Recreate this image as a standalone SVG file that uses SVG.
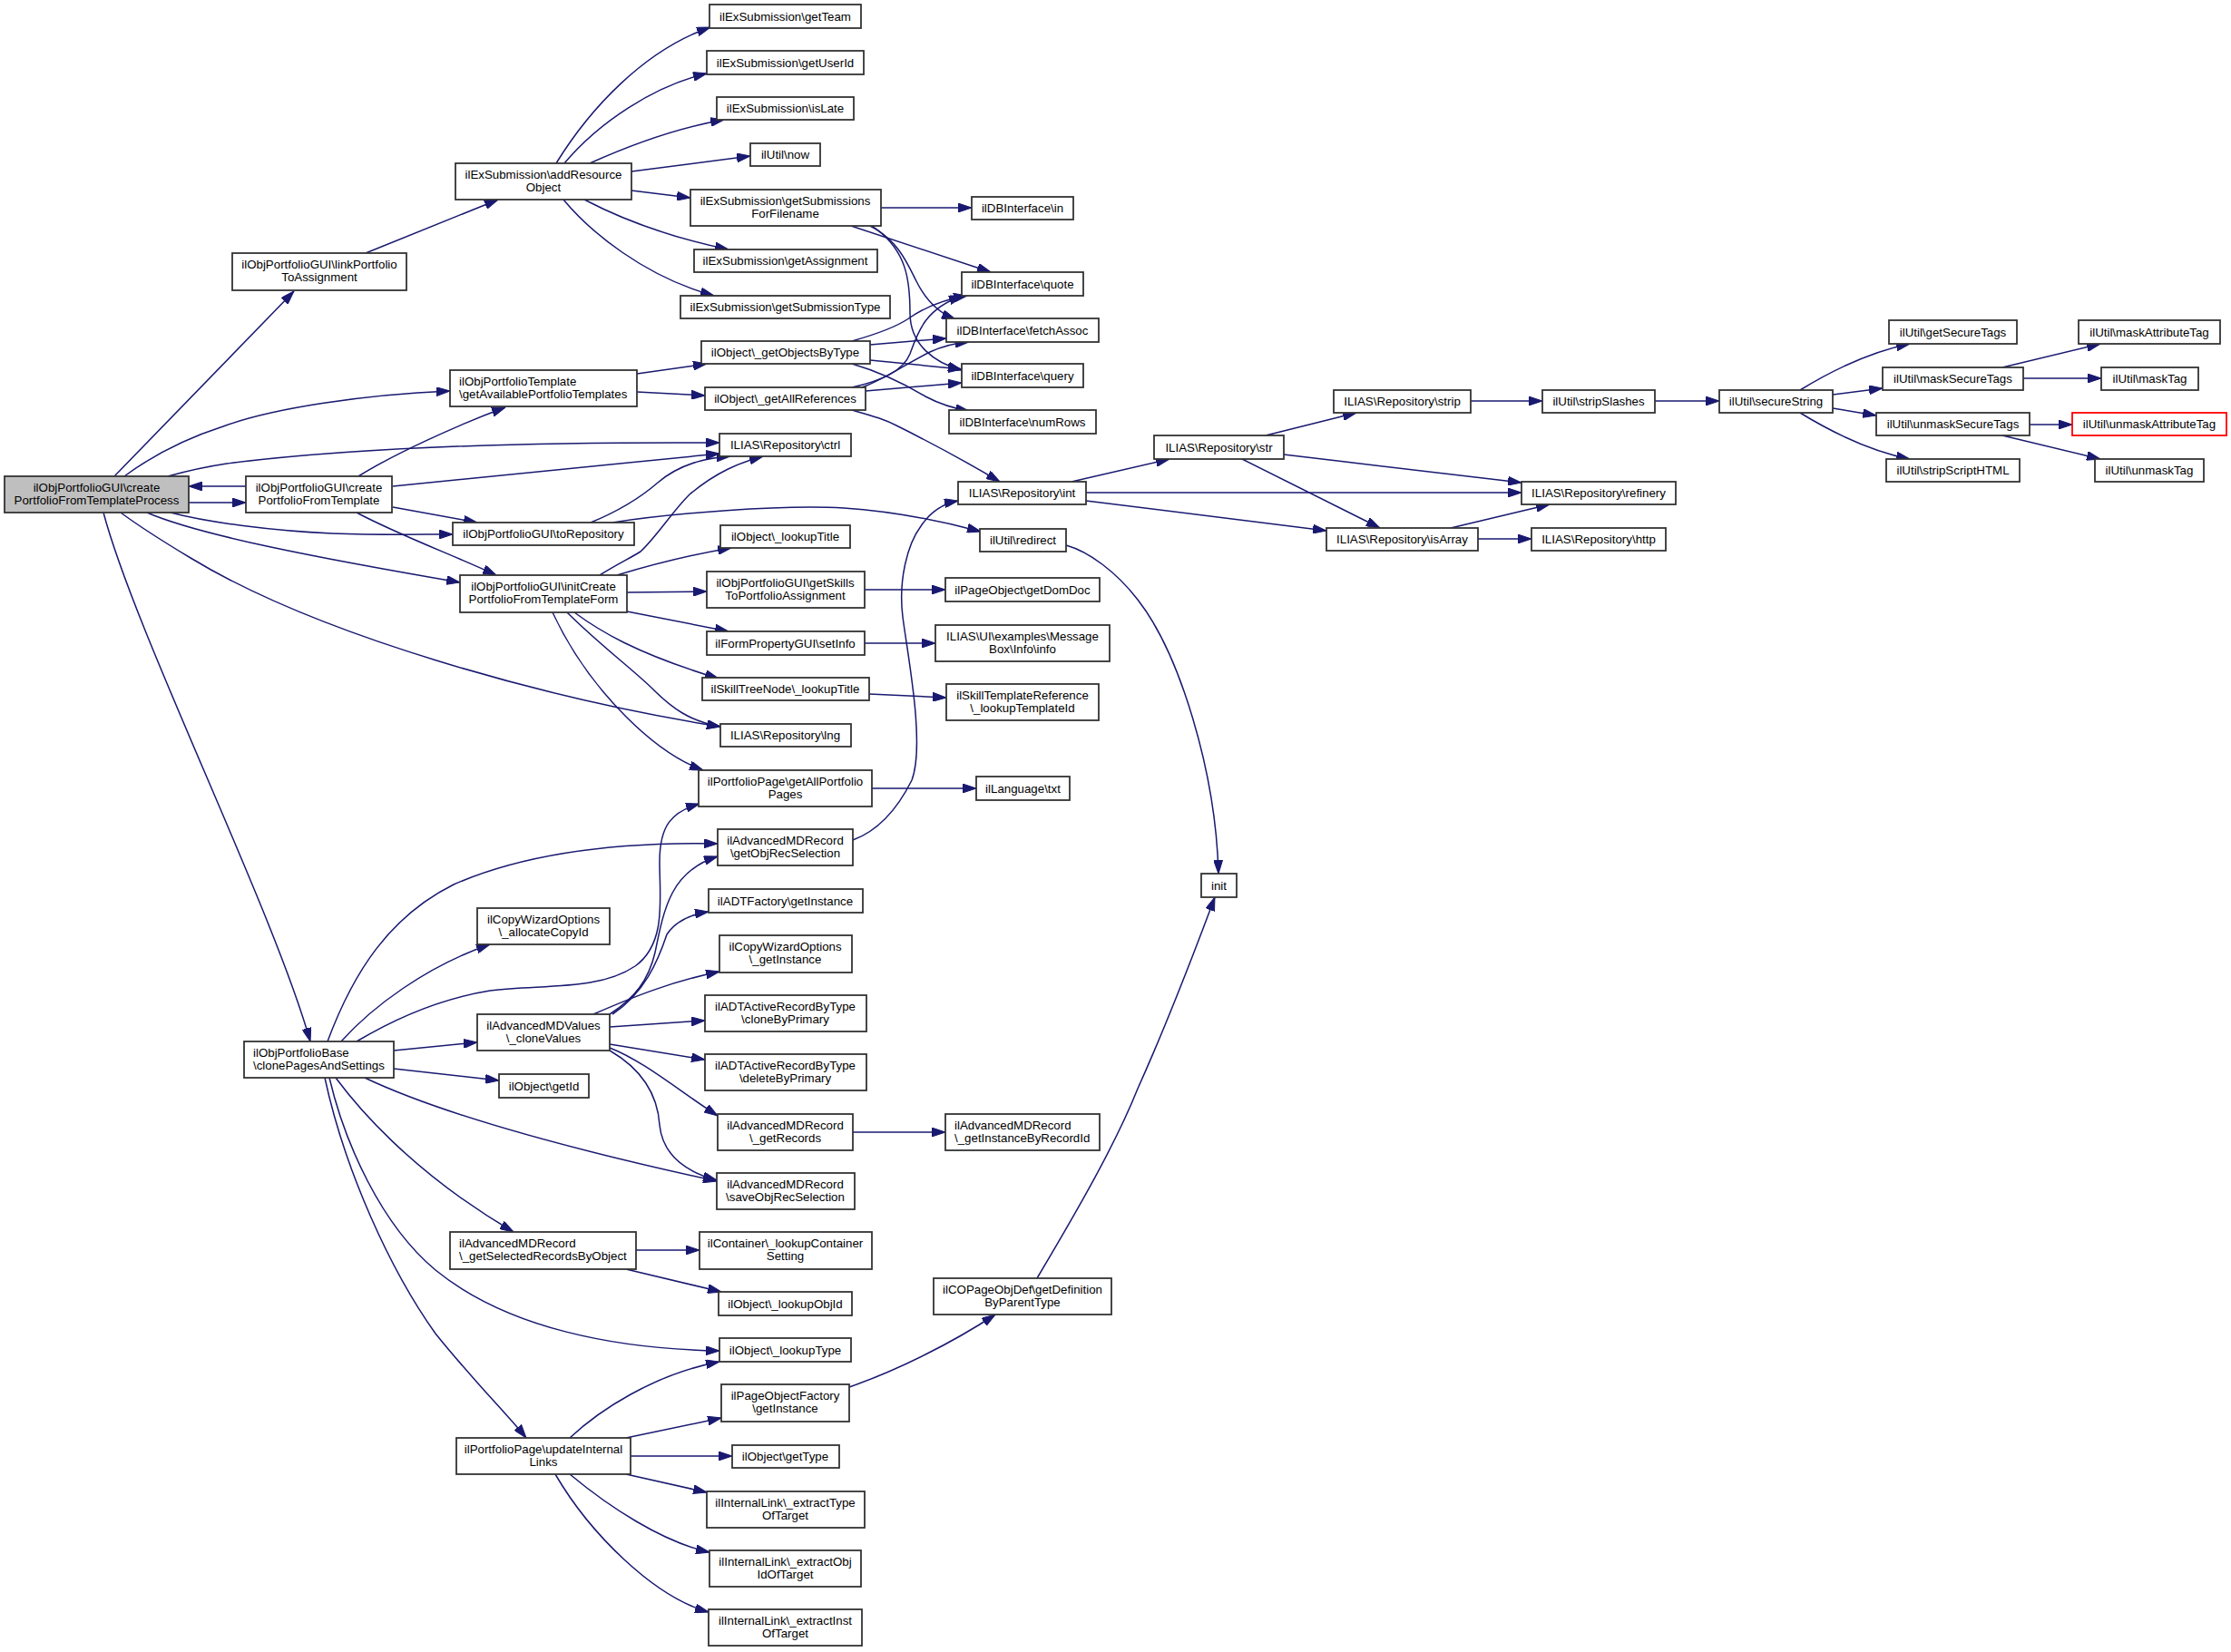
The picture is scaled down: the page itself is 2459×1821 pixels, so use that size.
<svg xmlns="http://www.w3.org/2000/svg" width="2459" height="1821" viewBox="0 0 2459 1821">
<defs>
<style>
.n rect{fill:#fff;stroke:#333;stroke-width:1.8}
.n text{font-family:"Liberation Sans",Arial,Helvetica,sans-serif;font-size:13.3px;fill:#000;text-anchor:middle}
.n text.l{text-anchor:start}
.n.main rect{fill:#bfbfbf}
.n.red rect{stroke:#ff0000}
.e path{fill:none;stroke:#191970;stroke-width:1.5;marker-end:url(#arr)}
</style>
<marker id="arr" markerWidth="15" markerHeight="10" refX="15" refY="5" orient="auto" markerUnits="userSpaceOnUse"><path d="M0,0 L15,5 L0,10 z" fill="#191970" stroke="#191970" stroke-width="1"/></marker>
</defs>
<rect x="0" y="0" width="2459" height="1821" fill="#fff"/>
<g id="edges" class="e">
<path d="M126,525 L324,321"/>
<path d="M137,525 C175,497 215,480 246,470 C300,450 400,435 496,431"/>
<path d="M185,525 C210,518 230,514 250,511 C400,492 600,487 793,488"/>
<path d="M271,536 L208,536"/>
<path d="M208,554 L271,554"/>
<path d="M188,565 C230,576 300,585 366,588 C420,590 460,589 499,589"/>
<path d="M162,565 C220,590 350,615 507,642"/>
<path d="M133,565 C160,585 185,600 210,615 C350,700 600,770 794,801"/>
<path d="M114,565 C150,700 300,1000 342,1148"/>
<path d="M395,525 C430,503 500,470 557,449"/>
<path d="M433,536 L793,500"/>
<path d="M433,559 L526,576"/>
<path d="M393,565 C440,590 500,612 547,634"/>
<path d="M403,279 L549,220"/>
<path d="M613,180 C650,120 710,55 783,30"/>
<path d="M622,180 C660,135 720,95 779,81"/>
<path d="M650,180 C690,162 740,142 798,132"/>
<path d="M696,189 L827,172"/>
<path d="M696,210 L761,218"/>
<path d="M644,220 C690,244 740,262 803,275"/>
<path d="M621,220 C650,255 710,305 787,326"/>
<path d="M971,229 L1071,229"/>
<path d="M938,249 L1092,300"/>
<path d="M959,249 C990,265 1000,290 1010,310 C1020,330 1035,345 1053,352"/>
<path d="M961,249 C1000,275 1003,310 1003,345 C1003,380 1030,400 1060,408"/>
<path d="M939,376 C960,370 985,362 1000,352 C1020,338 1040,330 1066,326"/>
<path d="M959,380 L1043,373"/>
<path d="M959,397 L1060,407"/>
<path d="M939,401 C970,410 1000,425 1020,437 C1035,445 1050,450 1068,453"/>
<path d="M939,427 C970,420 995,410 1003,390 C1012,365 1020,340 1061,326"/>
<path d="M950,427 C975,418 1000,400 1025,388 C1040,381 1055,378 1068,377"/>
<path d="M954,431 L1060,422"/>
<path d="M939,452 C960,458 975,462 990,470 C1030,490 1070,512 1102,531"/>
<path d="M702,412 L779,401"/>
<path d="M702,432 L777,436"/>
<path d="M651,576 C690,560 710,545 725,532 C745,515 770,505 805,503"/>
<path d="M675,576 C740,566 860,556 930,560 C990,564 1040,575 1081,586"/>
<path d="M661,634 C680,622 695,615 706,608 C725,590 740,565 760,545 C790,520 815,510 841,503"/>
<path d="M680,634 C720,622 770,610 806,604"/>
<path d="M691,653 L779,652"/>
<path d="M691,674 L803,696"/>
<path d="M633,675 C660,695 700,720 792,748"/>
<path d="M625,675 C660,710 700,740 720,760 C740,780 760,795 794,801"/>
<path d="M609,675 C630,720 660,760 690,790 C720,820 750,840 775,849"/>
<path d="M953,650 L1042,650"/>
<path d="M953,709 L1031,709"/>
<path d="M958,765 L1043,769"/>
<path d="M961,869 L1076,869"/>
<path d="M940,926 C970,915 990,890 1005,860 C1020,820 1000,720 995,680 C990,640 1000,600 1015,580 C1025,565 1040,555 1056,552"/>
<path d="M1175,601 C1200,608 1230,630 1254,661 C1300,720 1340,850 1343,963"/>
<path d="M1143,1409 C1190,1330 1230,1260 1254,1200 C1290,1120 1320,1040 1339,989"/>
<path d="M1181,531 L1289,506"/>
<path d="M1197,543 L1677,543"/>
<path d="M1197,552 L1462,585"/>
<path d="M1395,480 L1495,455"/>
<path d="M1415,501 L1677,532"/>
<path d="M1369,506 L1521,582"/>
<path d="M1599,582 L1708,556"/>
<path d="M1629,594 L1688,594"/>
<path d="M1621,442 L1700,442"/>
<path d="M1824,442 L1895,442"/>
<path d="M1984,430 C2020,408 2060,388 2105,379"/>
<path d="M2020,435 L2075,428"/>
<path d="M2020,450 L2068,458"/>
<path d="M1984,455 C2020,477 2060,497 2105,506"/>
<path d="M2207,405 L2315,379"/>
<path d="M2230,417 L2316,417"/>
<path d="M2237,468 L2284,468"/>
<path d="M2207,480 L2315,506"/>
<path d="M393,1148 C440,1120 490,1100 540,1092 C600,1085 660,1092 700,1065 C735,1040 727,990 727,950 C727,910 740,895 771,886"/>
<path d="M361,1148 C390,1070 430,1010 500,975 C580,940 680,928 791,930"/>
<path d="M376,1148 C410,1110 470,1065 540,1041"/>
<path d="M434,1158 L526,1149"/>
<path d="M434,1178 L550,1191"/>
<path d="M402,1188 C480,1225 620,1265 790,1302"/>
<path d="M370,1188 C390,1215 450,1290 566,1358"/>
<path d="M363,1188 C380,1260 420,1350 480,1400 C560,1465 680,1487 793,1489"/>
<path d="M358,1188 C380,1290 430,1400 480,1470 C520,1520 560,1560 580,1585"/>
<path d="M672,1118 C700,1100 715,1080 722,1050 C732,1000 740,960 791,944"/>
<path d="M675,1118 C710,1095 725,1060 735,1030 C745,1015 760,1008 781,1005"/>
<path d="M654,1118 C700,1098 740,1082 793,1071"/>
<path d="M672,1132 L777,1125"/>
<path d="M672,1151 L777,1168"/>
<path d="M672,1155 C710,1170 745,1200 791,1230"/>
<path d="M672,1158 C710,1180 725,1210 727,1240 C730,1270 750,1290 790,1301"/>
<path d="M940,1248 L1042,1248"/>
<path d="M701,1378 L771,1378"/>
<path d="M690,1399 L795,1424"/>
<path d="M628,1585 C660,1555 720,1515 793,1501"/>
<path d="M690,1585 L795,1563"/>
<path d="M695,1605 L807,1605"/>
<path d="M690,1625 L779,1645"/>
<path d="M628,1625 C670,1660 730,1700 782,1711"/>
<path d="M612,1625 C650,1690 720,1760 781,1777"/>
<path d="M936,1529 C990,1510 1050,1480 1097,1449"/>
</g>
<g id="n_main" class="n main"><rect x="5" y="525" width="203" height="40"/><text x="106.5" y="541.5">ilObjPortfolioGUI\create</text><text x="106.5" y="556.3">PortfolioFromTemplateProcess</text></g>
<g id="n_link" class="n"><rect x="256" y="279" width="192" height="41"/><text x="352" y="295.5">ilObjPortfolioGUI\linkPortfolio</text><text x="352" y="310.3">ToAssignment</text></g>
<g id="n_cpft" class="n"><rect x="271" y="525" width="161" height="40"/><text x="351.5" y="541.5">ilObjPortfolioGUI\create</text><text x="351.5" y="556.3">PortfolioFromTemplate</text></g>
<g id="n_clonepages" class="n"><rect x="269" y="1148" width="165" height="40"/><text class="l" x="279" y="1164.5">ilObjPortfolioBase</text><text class="l" x="279" y="1179.3">\clonePagesAndSettings</text></g>
<g id="n_addres" class="n"><rect x="502" y="180" width="194" height="40"/><text x="599" y="196.5">ilExSubmission\addResource</text><text x="599" y="211.3">Object</text></g>
<g id="n_gapt" class="n"><rect x="496" y="408" width="206" height="40"/><text class="l" x="506" y="424.5">ilObjPortfolioTemplate</text><text class="l" x="506" y="439.3">\getAvailablePortfolioTemplates</text></g>
<g id="n_torepo" class="n"><rect x="499" y="576" width="200" height="25"/><text x="599" y="593">ilObjPortfolioGUI\toRepository</text></g>
<g id="n_initcreate" class="n"><rect x="507" y="634" width="184" height="41"/><text x="599" y="650.5">ilObjPortfolioGUI\initCreate</text><text x="599" y="665.3">PortfolioFromTemplateForm</text></g>
<g id="n_alloccopy" class="n"><rect x="526" y="1001" width="146" height="40"/><text x="599" y="1017.5">ilCopyWizardOptions</text><text x="599" y="1032.3">\_allocateCopyId</text></g>
<g id="n_clonevalues" class="n"><rect x="526" y="1118" width="146" height="40"/><text x="599" y="1134.5">ilAdvancedMDValues</text><text x="599" y="1149.3">\_cloneValues</text></g>
<g id="n_getid" class="n"><rect x="550" y="1184" width="99" height="26"/><text x="599.5" y="1201.5">ilObject\getId</text></g>
<g id="n_selrecs" class="n"><rect x="496" y="1358" width="205" height="41"/><text class="l" x="506" y="1374.5">ilAdvancedMDRecord</text><text class="l" x="506" y="1389.3">\_getSelectedRecordsByObject</text></g>
<g id="n_updatelinks" class="n"><rect x="503" y="1585" width="192" height="40"/><text x="599" y="1601.5">ilPortfolioPage\updateInternal</text><text x="599" y="1616.3">Links</text></g>
<g id="n_getteam" class="n"><rect x="782" y="5" width="167" height="26"/><text x="865.5" y="22.5">ilExSubmission\getTeam</text></g>
<g id="n_getuserid" class="n"><rect x="779" y="56" width="173" height="26"/><text x="865.5" y="73.5">ilExSubmission\getUserId</text></g>
<g id="n_islate" class="n"><rect x="790" y="107" width="151" height="25"/><text x="865.5" y="124">ilExSubmission\isLate</text></g>
<g id="n_now" class="n"><rect x="827" y="158" width="77" height="25"/><text x="865.5" y="175">ilUtil\now</text></g>
<g id="n_gsff" class="n"><rect x="761" y="209" width="210" height="40"/><text x="865.5" y="225.5">ilExSubmission\getSubmissions</text><text x="865.5" y="240.3">ForFilename</text></g>
<g id="n_getassign" class="n"><rect x="765" y="275" width="202" height="25"/><text x="865.5" y="292">ilExSubmission\getAssignment</text></g>
<g id="n_getsubtype" class="n"><rect x="750" y="326" width="231" height="25"/><text x="865.5" y="343">ilExSubmission\getSubmissionType</text></g>
<g id="n_obt" class="n"><rect x="773" y="376" width="186" height="25"/><text x="865.5" y="393">ilObject\_getObjectsByType</text></g>
<g id="n_gar" class="n"><rect x="777" y="427" width="177" height="25"/><text x="865.5" y="444">ilObject\_getAllReferences</text></g>
<g id="n_ctrl" class="n"><rect x="793" y="478" width="145" height="25"/><text x="865.5" y="495">ILIAS\Repository\ctrl</text></g>
<g id="n_lookuptitle" class="n"><rect x="794" y="579" width="143" height="25"/><text x="865.5" y="596">ilObject\_lookupTitle</text></g>
<g id="n_getskills" class="n"><rect x="779" y="630" width="174" height="40"/><text x="865.5" y="646.5">ilObjPortfolioGUI\getSkills</text><text x="865.5" y="661.3">ToPortfolioAssignment</text></g>
<g id="n_setinfo" class="n"><rect x="779" y="696" width="174" height="26"/><text x="865.5" y="713.5">ilFormPropertyGUI\setInfo</text></g>
<g id="n_skilltitle" class="n"><rect x="774" y="747" width="184" height="25"/><text x="865.5" y="764">ilSkillTreeNode\_lookupTitle</text></g>
<g id="n_lng" class="n"><rect x="794" y="798" width="144" height="25"/><text x="865.5" y="815">ILIAS\Repository\lng</text></g>
<g id="n_gapp" class="n"><rect x="770" y="849" width="191" height="40"/><text x="865.5" y="865.5">ilPortfolioPage\getAllPortfolio</text><text x="865.5" y="880.3">Pages</text></g>
<g id="n_objrecsel" class="n"><rect x="791" y="914" width="149" height="40"/><text x="865.5" y="930.5">ilAdvancedMDRecord</text><text x="865.5" y="945.3">\getObjRecSelection</text></g>
<g id="n_adtfactory" class="n"><rect x="781" y="980" width="170" height="26"/><text x="865.5" y="997.5">ilADTFactory\getInstance</text></g>
<g id="n_cwoinst" class="n"><rect x="793" y="1031" width="146" height="41"/><text x="865.5" y="1047.5">ilCopyWizardOptions</text><text x="865.5" y="1062.3">\_getInstance</text></g>
<g id="n_clonebyprim" class="n"><rect x="777" y="1097" width="178" height="40"/><text x="865.5" y="1113.5">ilADTActiveRecordByType</text><text x="865.5" y="1128.3">\cloneByPrimary</text></g>
<g id="n_deletebyprim" class="n"><rect x="777" y="1162" width="178" height="40"/><text x="865.5" y="1178.5">ilADTActiveRecordByType</text><text x="865.5" y="1193.3">\deleteByPrimary</text></g>
<g id="n_getrecords" class="n"><rect x="791" y="1228" width="149" height="40"/><text x="865.5" y="1244.5">ilAdvancedMDRecord</text><text x="865.5" y="1259.3">\_getRecords</text></g>
<g id="n_saverecsel" class="n"><rect x="790" y="1293" width="152" height="40"/><text x="865.5" y="1309.5">ilAdvancedMDRecord</text><text x="865.5" y="1324.3">\saveObjRecSelection</text></g>
<g id="n_containerset" class="n"><rect x="771" y="1358" width="190" height="41"/><text x="865.5" y="1374.5">ilContainer\_lookupContainer</text><text x="865.5" y="1389.3">Setting</text></g>
<g id="n_lookupobjid" class="n"><rect x="792" y="1424" width="147" height="26"/><text x="865.5" y="1441.5">ilObject\_lookupObjId</text></g>
<g id="n_lookuptype" class="n"><rect x="793" y="1475" width="145" height="26"/><text x="865.5" y="1492.5">ilObject\_lookupType</text></g>
<g id="n_pofactory" class="n"><rect x="795" y="1526" width="141" height="41"/><text x="865.5" y="1542.5">ilPageObjectFactory</text><text x="865.5" y="1557.3">\getInstance</text></g>
<g id="n_gettype" class="n"><rect x="807" y="1593" width="118" height="25"/><text x="865.5" y="1610">ilObject\getType</text></g>
<g id="n_extracttype" class="n"><rect x="779" y="1644" width="174" height="40"/><text x="865.5" y="1660.5">ilInternalLink\_extractType</text><text x="865.5" y="1675.3">OfTarget</text></g>
<g id="n_extractobj" class="n"><rect x="782" y="1709" width="167" height="40"/><text x="865.5" y="1725.5">ilInternalLink\_extractObj</text><text x="865.5" y="1740.3">IdOfTarget</text></g>
<g id="n_extractinst" class="n"><rect x="781" y="1774" width="169" height="40"/><text x="865.5" y="1790.5">ilInternalLink\_extractInst</text><text x="865.5" y="1805.3">OfTarget</text></g>
<g id="n_dbin" class="n"><rect x="1071" y="217" width="112" height="25"/><text x="1127" y="234">ilDBInterface\in</text></g>
<g id="n_quote" class="n"><rect x="1060" y="300" width="134" height="26"/><text x="1127" y="317.5">ilDBInterface\quote</text></g>
<g id="n_fetch" class="n"><rect x="1043" y="351" width="168" height="26"/><text x="1127" y="368.5">ilDBInterface\fetchAssoc</text></g>
<g id="n_query" class="n"><rect x="1060" y="401" width="134" height="26"/><text x="1127" y="418.5">ilDBInterface\query</text></g>
<g id="n_numrows" class="n"><rect x="1046" y="452" width="162" height="26"/><text x="1127" y="469.5">ilDBInterface\numRows</text></g>
<g id="n_int" class="n"><rect x="1056" y="531" width="141" height="25"/><text x="1126.5" y="548">ILIAS\Repository\int</text></g>
<g id="n_redirect" class="n"><rect x="1080" y="583" width="95" height="25"/><text x="1127.5" y="600">ilUtil\redirect</text></g>
<g id="n_domdoc" class="n"><rect x="1042" y="637" width="170" height="26"/><text x="1127" y="654.5">ilPageObject\getDomDoc</text></g>
<g id="n_msgbox" class="n"><rect x="1031" y="689" width="192" height="40"/><text x="1127" y="705.5">ILIAS\UI\examples\Message</text><text x="1127" y="720.3">Box\Info\info</text></g>
<g id="n_skilltemplate" class="n"><rect x="1043" y="754" width="168" height="40"/><text x="1127" y="770.5">ilSkillTemplateReference</text><text x="1127" y="785.3">\_lookupTemplateId</text></g>
<g id="n_txt" class="n"><rect x="1076" y="856" width="103" height="26"/><text x="1127.5" y="873.5">ilLanguage\txt</text></g>
<g id="n_getinstbyrec" class="n"><rect x="1042" y="1228" width="170" height="40"/><text class="l" x="1052" y="1244.5">ilAdvancedMDRecord</text><text class="l" x="1052" y="1259.3">\_getInstanceByRecordId</text></g>
<g id="n_copagedef" class="n"><rect x="1029" y="1409" width="196" height="40"/><text x="1127" y="1425.5">ilCOPageObjDef\getDefinition</text><text x="1127" y="1440.3">ByParentType</text></g>
<g id="n_str" class="n"><rect x="1272" y="480" width="143" height="26"/><text x="1343.5" y="497.5">ILIAS\Repository\str</text></g>
<g id="n_init" class="n"><rect x="1324" y="963" width="39" height="26"/><text x="1343.5" y="980.5">init</text></g>
<g id="n_strip" class="n"><rect x="1470" y="430" width="151" height="25"/><text x="1545.5" y="447">ILIAS\Repository\strip</text></g>
<g id="n_isarray" class="n"><rect x="1462" y="582" width="167" height="25"/><text x="1545.5" y="599">ILIAS\Repository\isArray</text></g>
<g id="n_refinery" class="n"><rect x="1677" y="531" width="170" height="25"/><text x="1762" y="548">ILIAS\Repository\refinery</text></g>
<g id="n_http" class="n"><rect x="1688" y="582" width="148" height="25"/><text x="1762" y="599">ILIAS\Repository\http</text></g>
<g id="n_stripslashes" class="n"><rect x="1700" y="430" width="124" height="25"/><text x="1762" y="447">ilUtil\stripSlashes</text></g>
<g id="n_securestring" class="n"><rect x="1895" y="430" width="125" height="25"/><text x="1957.5" y="447">ilUtil\secureString</text></g>
<g id="n_getsecuretags" class="n"><rect x="2082" y="353" width="141" height="26"/><text x="2152.5" y="370.5">ilUtil\getSecureTags</text></g>
<g id="n_masksecure" class="n"><rect x="2075" y="405" width="155" height="25"/><text x="2152.5" y="422">ilUtil\maskSecureTags</text></g>
<g id="n_unmasksecure" class="n"><rect x="2068" y="455" width="169" height="25"/><text x="2152.5" y="472">ilUtil\unmaskSecureTags</text></g>
<g id="n_stripscript" class="n"><rect x="2079" y="506" width="147" height="25"/><text x="2152.5" y="523">ilUtil\stripScriptHTML</text></g>
<g id="n_maskattr" class="n"><rect x="2291" y="353" width="156" height="26"/><text x="2369" y="370.5">ilUtil\maskAttributeTag</text></g>
<g id="n_masktag" class="n"><rect x="2316" y="405" width="107" height="25"/><text x="2369.5" y="422">ilUtil\maskTag</text></g>
<g id="n_unmaskattr" class="n red"><rect x="2284" y="455" width="170" height="25"/><text x="2369" y="472">ilUtil\unmaskAttributeTag</text></g>
<g id="n_unmasktag" class="n"><rect x="2309" y="506" width="120" height="25"/><text x="2369" y="523">ilUtil\unmaskTag</text></g>
</svg>
